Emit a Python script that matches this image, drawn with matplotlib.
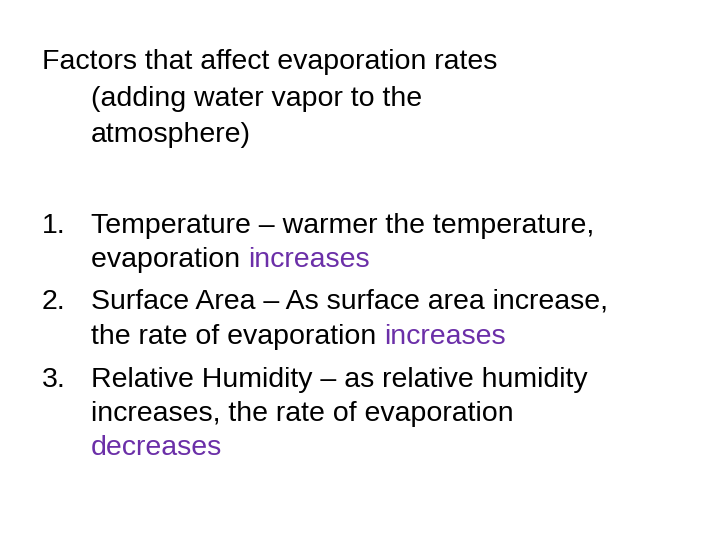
import matplotlib
matplotlib.use("Agg")
import matplotlib.pyplot as plt

plt.rcParams['font.family'] = ['Liberation Sans', 'DejaVu Sans']

title_lines = ["Factors that affect evaporation rates",
               "(adding water vapor to the",
               "atmosphere)"]
title_y = [62, 99, 135]
title_x = [42, 91, 91]

# each item: (number, list of lines; each line is list of (text, colour))
purple = "#6B2FA8"
items = [
    ("1.", [[("Temperature \u2013 warmer the temperature,", "black")],
            [("evaporation ", "black"), ("increases", purple)]]),
    ("2.", [[("Surface Area \u2013 As surface area increase,", "black")],
            [("the rate of evaporation ", "black"), ("increases", purple)]]),
    ("3.", [[("Relative Humidity \u2013 as relative humidity", "black")],
            [("increases, the rate of evaporation", "black")],
            [("decreases", purple)]]),
]
item_y = [[226, 260], [302, 337], [380, 414, 448]]

W, H = 720, 540
fig = plt.figure(figsize=(7.2, 5.4), dpi=100)
fs = 20.5
r = fig.canvas.get_renderer()

def put(x, y, s, c):
    t = fig.text(x / W, 1 - y / H, s, color=c, fontsize=fs, va='center', ha='left')
    return t.get_window_extent(r).width

for s, x, y in zip(title_lines, title_x, title_y):
    put(x, y, s, "black")

for (num, lines), ys in zip(items, item_y):
    put(42, ys[0], num, "black")
    for segs, y in zip(lines, ys):
        x = 91
        for s, c in segs:
            x += put(x, y, s, c)

fig.savefig("out.png", dpi=100)
